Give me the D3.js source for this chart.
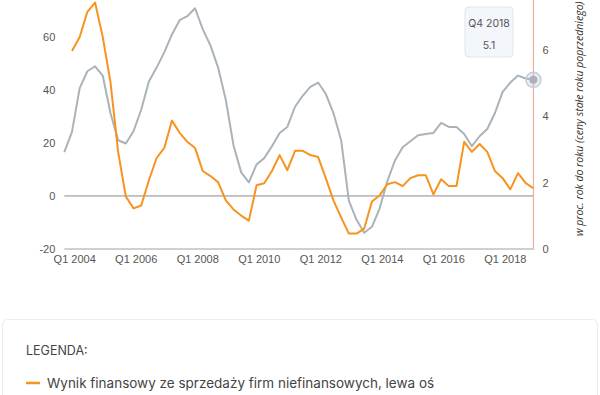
<!DOCTYPE html>
<html>
<head>
<meta charset="utf-8">
<script src="https://cdn.jsdelivr.net/npm/d3@7"></script>
<style>
  body { margin: 0; background: #fff; }
  svg { display: block; font-family: Lato, "Open Sans", sans-serif; }
  .tick text { fill: #555; font-size: 11px; }
</style>
</head>
<body>
<svg id="chart" width="600" height="395"></svg>
<script>
var quarters = [
    "Q3 2003", "Q4 2003",
    "Q1 2004", "Q2 2004", "Q3 2004", "Q4 2004",
    "Q1 2005", "Q2 2005", "Q3 2005", "Q4 2005",
    "Q1 2006", "Q2 2006", "Q3 2006", "Q4 2006",
    "Q1 2007", "Q2 2007", "Q3 2007", "Q4 2007",
    "Q1 2008", "Q2 2008", "Q3 2008", "Q4 2008",
    "Q1 2009", "Q2 2009", "Q3 2009", "Q4 2009",
    "Q1 2010", "Q2 2010", "Q3 2010", "Q4 2010",
    "Q1 2011", "Q2 2011", "Q3 2011", "Q4 2011",
    "Q1 2012", "Q2 2012", "Q3 2012", "Q4 2012",
    "Q1 2013", "Q2 2013", "Q3 2013", "Q4 2013",
    "Q1 2014", "Q2 2014", "Q3 2014", "Q4 2014",
    "Q1 2015", "Q2 2015", "Q3 2015", "Q4 2015",
    "Q1 2016", "Q2 2016", "Q3 2016", "Q4 2016",
    "Q1 2017", "Q2 2017", "Q3 2017", "Q4 2017",
    "Q1 2018", "Q2 2018", "Q3 2018", "Q4 2018"
];

// wynik finansowy ze sprzedazy, lewa os (null = brak danych)
var financialResult = [
    null, 54.6, 59.9, 69.4, 72.9, 59.9, 43.0, 16.6, -0.2, -4.7,
    -3.6, 5.9, 14.3, 18.1, 28.4, 23.8, 20.4, 18.1, 9.4, 7.5,
    5.2, -1.7, -5.1, -7.4, -9.3, 4.0, 4.8, 9.4, 15.4, 9.7,
    17.0, 17.0, 15.4, 14.7, 6.7, -1.7, -8.1, -14.2, -14.2, -12.3,
    -2.1, 0.2, 4.4, 5.2, 3.7, 6.7, 7.8, 7.8, 0.6, 6.3,
    3.7, 3.7, 20.4, 16.6, 19.6, 16.6, 9.4, 6.7, 2.5, 8.6,
    4.8, 2.9
];

// PKB, prawa os
var gdpGrowth = [
    2.92, 3.53, 4.85, 5.36, 5.51, 5.23, 4.10, 3.28, 3.18, 3.55,
    4.20, 5.05, 5.47, 5.93, 6.47, 6.90, 7.02, 7.26, 6.63, 6.14,
    5.47, 4.50, 3.13, 2.31, 2.01, 2.55, 2.74, 3.10, 3.50, 3.68,
    4.29, 4.62, 4.89, 5.02, 4.68, 4.10, 3.28, 1.46, 0.88, 0.49,
    0.67, 1.22, 2.04, 2.67, 3.07, 3.25, 3.43, 3.47, 3.50, 3.80,
    3.68, 3.68, 3.47, 3.10, 3.40, 3.62, 4.10, 4.74, 5.02, 5.23,
    5.14, 5.1
];

var xTickLabels = ["Q1 2004", "Q1 2006", "Q1 2008", "Q1 2010", "Q1 2012", "Q1 2014", "Q1 2016", "Q1 2018"];
var leftTicks = [-20, 0, 20, 40, 60];
var rightTicks = [0, 2, 4, 6];
var rightAxisTitle = "w proc. rok do roku (ceny stałe roku poprzedniego)";
var legendTitle = "LEGENDA:";
var legendItems = ["Wynik finansowy ze sprzedaży firm niefinansowych, lewa oś"];

function makeChart(id) {
    var svg = d3.select("#" + id);
    var plotLeft = 64.3, plotRight = 533.4, plotTop = -16.3, plotBottom = 249;

    var x = d3.scalePoint().domain(quarters).range([plotLeft, plotRight]);
    var yLeft = d3.scaleLinear().domain([-20, 80]).range([plotBottom, plotTop]);
    var yRight = d3.scaleLinear().domain([0, 8]).range([plotBottom, plotTop]);

    // plain hyphen, like the original
    function plain(d) { return String(d); }

    var root = svg.append('g');

    // left axis labels
    root.append('g')
        .attr('transform', "translate(" + (plotLeft - 2) + ",0)")
        .call(d3.axisLeft(yLeft).tickValues(leftTicks).tickFormat(plain).tickSize(0).tickPadding(7))
        .call(function (g) { g.select('.domain').remove(); });

    // right axis labels
    root.append('g')
        .attr('transform', "translate(" + (plotRight + 2) + ",0)")
        .call(d3.axisRight(yRight).tickValues(rightTicks).tickFormat(plain).tickSize(0).tickPadding(7))
        .call(function (g) { g.select('.domain').remove(); });

    // x axis labels (the original puts them a bit left of the point)
    root.append('g')
        .attr('transform', "translate(0," + plotBottom + ")")
        .call(d3.axisBottom(x).tickValues(xTickLabels).tickSize(0).tickPadding(6))
        .call(function (g) {
            g.select('.domain').remove();
            g.selectAll('text').attr('dx', -5.5);
        });

    // baseline + zero line
    root.append('line')
        .attr('x1', plotLeft).attr('x2', plotRight + 1)
        .attr('y1', plotBottom).attr('y2', plotBottom)
        .attr('stroke', "#d0d0d0").attr('stroke-width', 2);
    root.append('line')
        .attr('x1', plotLeft).attr('x2', plotRight)
        .attr('y1', yLeft(0)).attr('y2', yLeft(0))
        .attr('stroke', "#8a8a8a").attr('stroke-width', 1);

    var last = quarters.length - 1;

    // hover cursor line
    root.append('line')
        .attr('x1', x(quarters[last])).attr('x2', x(quarters[last]))
        .attr('y1', 0).attr('y2', plotBottom - 1)
        .attr('stroke', "#f2a08c").attr('stroke-width', 1);

    var lineGdp = d3.line()
        .x(function (d, i) { return x(quarters[i]); })
        .y(function (d) { return yRight(d); });
    var lineFin = d3.line()
        .defined(function (d) { return d !== null; })
        .x(function (d, i) { return x(quarters[i]); })
        .y(function (d) { return yLeft(d); });

    root.append('path')
        .datum(gdpGrowth)
        .attr('fill', "none")
        .attr('stroke', "#aab3ba")
        .attr('stroke-width', 2)
        .attr('stroke-linejoin', "round")
        .attr('d', lineGdp);

    root.append('path')
        .datum(financialResult)
        .attr('fill', "none")
        .attr('stroke', "#f7931e")
        .attr('stroke-width', 2)
        .attr('stroke-linejoin', "round")
        .attr('d', lineFin);

    // hovered point
    root.append('circle')
        .attr('cx', x(quarters[last])).attr('cy', yRight(gdpGrowth[last]))
        .attr('r', 7.5)
        .attr('fill', "rgba(170,180,195,0.25)")
        .attr('stroke', "#c3ccd8").attr('stroke-width', 1.5);
    root.append('circle')
        .attr('cx', x(quarters[last])).attr('cy', yRight(gdpGrowth[last]))
        .attr('r', 4)
        .attr('fill', "#aab1ba");

    // tooltip
    var tip = root.append('g').attr('transform', "translate(465, 7)");
    tip.append('rect')
        .attr('width', 48).attr('height', 50)
        .attr('rx', 4)
        .attr('fill', "#f3f6fa")
        .attr('stroke', "#dfe5ee");
    tip.append('text')
        .attr('x', 24).attr('y', 20)
        .attr('text-anchor', "middle")
        .style('font-family', "Inter, 'Open Sans', sans-serif")
        .style('font-size', "10.5px")
        .attr('fill', "#555")
        .text(quarters[last]);
    tip.append('text')
        .attr('x', 24).attr('y', 42)
        .attr('text-anchor', "middle")
        .style('font-family', "Inter, 'Open Sans', sans-serif")
        .style('font-size', "10.5px")
        .attr('fill', "#555")
        .text(d3.format(".1f")(gdpGrowth[last]));

    // right axis title (runs off the top, as in the original)
    root.append('text')
        .attr('transform', "translate(583, 236) rotate(-90)")
        .style('font-family', "'Open Sans', sans-serif")
        .style('font-style', "italic")
        .style('font-size', "10.5px")
        .attr('fill', "#333")
        .text(rightAxisTitle);

    // legend
    var legend = svg.append('g');
    legend.append('rect')
        .attr('x', 2.5).attr('y', 319.5)
        .attr('width', 595).attr('height', 100)
        .attr('rx', 5)
        .attr('fill', "#fff")
        .attr('stroke', "#ececec");
    legend.append('text')
        .attr('x', 26).attr('y', 355)
        .style('font-family', "Inter, 'Open Sans', sans-serif")
        .style('font-size', "12.5px")
        .attr('fill', "#444")
        .text(legendTitle);
    legend.selectAll('g.item')
        .data(legendItems)
        .enter().append('g')
        .attr('class', 'item')
        .each(function (d, i) {
            var g = d3.select(this);
            g.append('line')
                .attr('x1', 26).attr('x2', 40)
                .attr('y1', 383 + i * 24).attr('y2', 383 + i * 24)
                .attr('stroke', "#f7931e").attr('stroke-width', 2.5);
            g.append('text')
                .attr('x', 47).attr('y', 388 + i * 24)
                .style('font-family', "Inter, 'Open Sans', sans-serif")
                .style('font-size', "13.5px")
                .attr('fill', "#444")
                .text(d);
        });
}

makeChart('chart');
</script>
</body>
</html>
